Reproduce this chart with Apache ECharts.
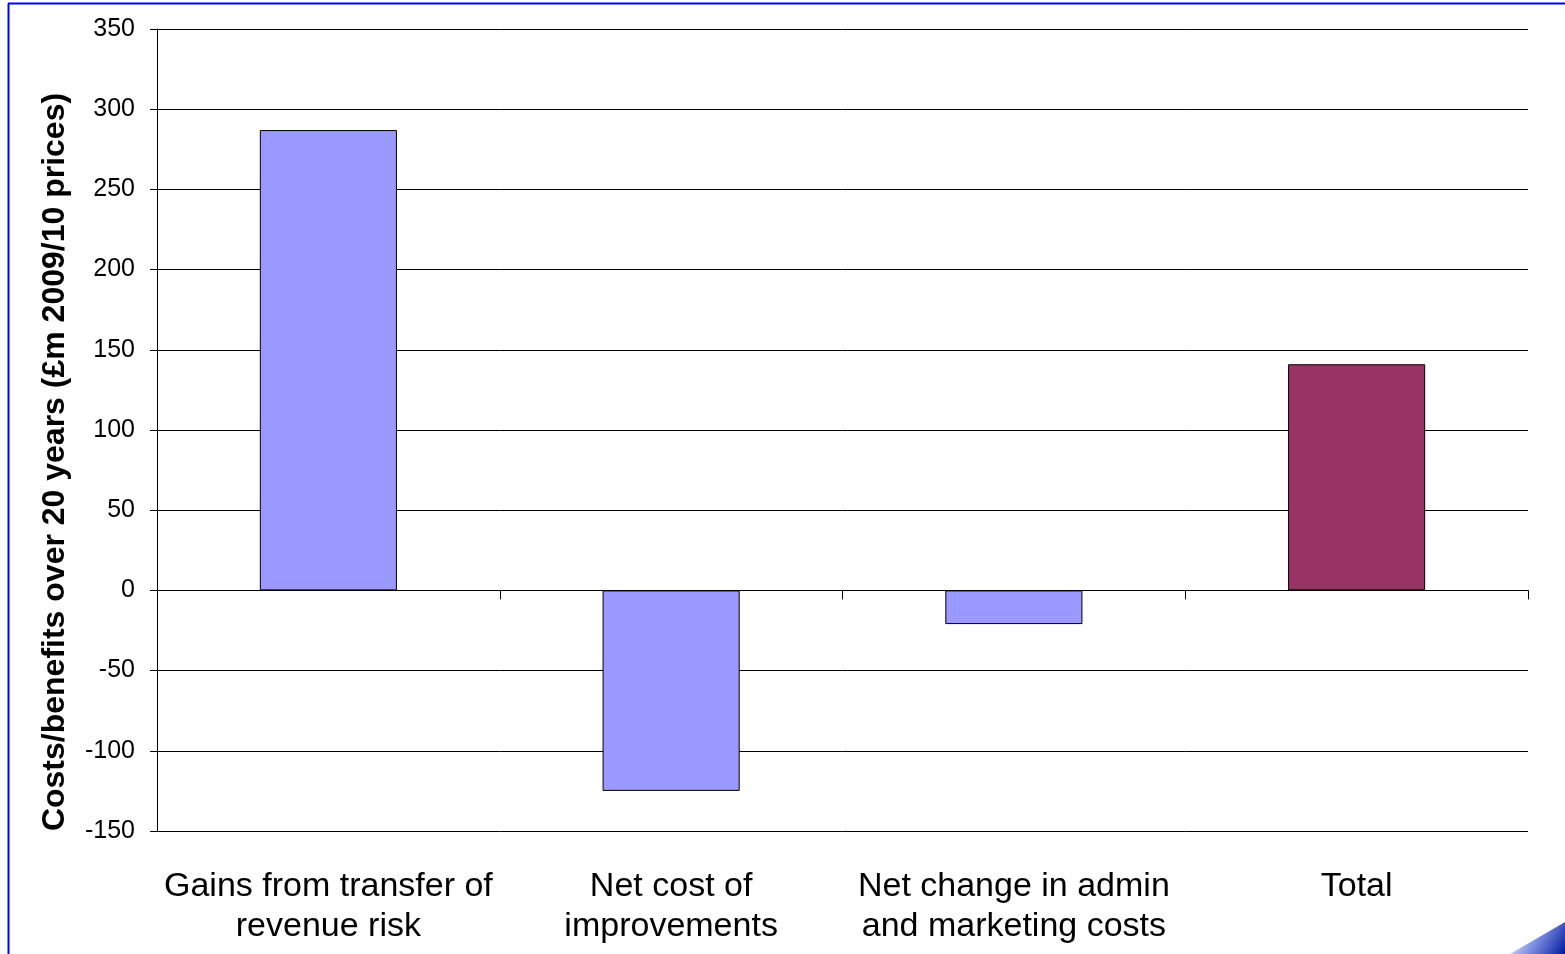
<!DOCTYPE html>
<html><head><meta charset="utf-8">
<script src="https://cdn.jsdelivr.net/npm/echarts@6/dist/echarts.min.js"></script>
<style>html,body{margin:0;padding:0;background:#fff}#c{width:1565px;height:954px}</style>
</head><body><div id="c"></div>
<script>
const categories = ['Gains from transfer of\nrevenue risk', 'Net cost of\nimprovements', 'Net change in admin\nand marketing costs', 'Total'];
const values = [287, -125, -21, 141];
const barColors = ['#9999FF', '#9999FF', '#9999FF', '#993366'];
const yTitle = 'Costs/benefits over 20 years (£m 2009/10 prices)';

const chart = echarts.init(document.getElementById('c'));
chart.setOption({
  animation: false,
  backgroundColor: '#fff',
  grid: {left: 157, top: 29, right: 37, bottom: 123, containLabel: false},
  xAxis: [{
    type: 'category', data: categories, position: 'bottom',
    axisLine: {show: false, onZero: false}, axisTick: {show: false},
    axisLabel: {interval: 0, fontFamily: 'Liberation Sans, Arial, sans-serif', fontSize: 34, color: '#000', lineHeight: 40, margin: 36}
  }, {
    type: 'category', data: categories, position: 'bottom',
    axisLine: {onZero: true, lineStyle: {color: '#000', width: 1}},
    axisTick: {show: true, length: 9, inside: false, lineStyle: {color: '#000'}},
    axisLabel: {show: false}
  }],
  yAxis: {
    type: 'value', min: -150, max: 350, interval: 50,
    axisLine: {show: true, lineStyle: {color: '#000'}},
    axisTick: {show: true, length: 7, lineStyle: {color: '#000'}},
    splitLine: {lineStyle: {color: '#000', width: 1}},
    axisLabel: {fontFamily: 'Liberation Sans, Arial, sans-serif', fontSize: 25, color: '#000', margin: 22}
  },
  series: [{
    type: 'bar', xAxisIndex: 0,
    barCategoryGap: '60%',
    data: values.map((v, i) => ({value: v, itemStyle: {color: barColors[i]}})),
    itemStyle: {borderColor: '#000', borderWidth: 1}
  }],
  graphic: [
    {type: 'text', x: 55, y: 462, rotation: Math.PI / 2,
     style: {text: yTitle, fontFamily: 'Liberation Sans, Arial, sans-serif', fontWeight: 'bold', fontSize: 32, fill: '#000', align: 'center', verticalAlign: 'middle'}},
    {type: 'line', shape: {x1: 8.5, y1: 3.5, x2: 8.5, y2: 954}, style: {stroke: '#0000FF', lineWidth: 2}},
    {type: 'line', shape: {x1: 8, y1: 3.5, x2: 1565, y2: 3.5}, style: {stroke: '#0000FF', lineWidth: 2}},
    {type: 'polygon', shape: {points: [[1510, 954], [1565, 922], [1565, 954]]},
     style: {fill: new echarts.graphic.LinearGradient(0, 0, 1, 1, [{offset: 0, color: '#ffffff'}, {offset: 0.5, color: '#7f8fe0'}, {offset: 1, color: '#001a9f'}])}}
  ]
});
</script></body></html>
